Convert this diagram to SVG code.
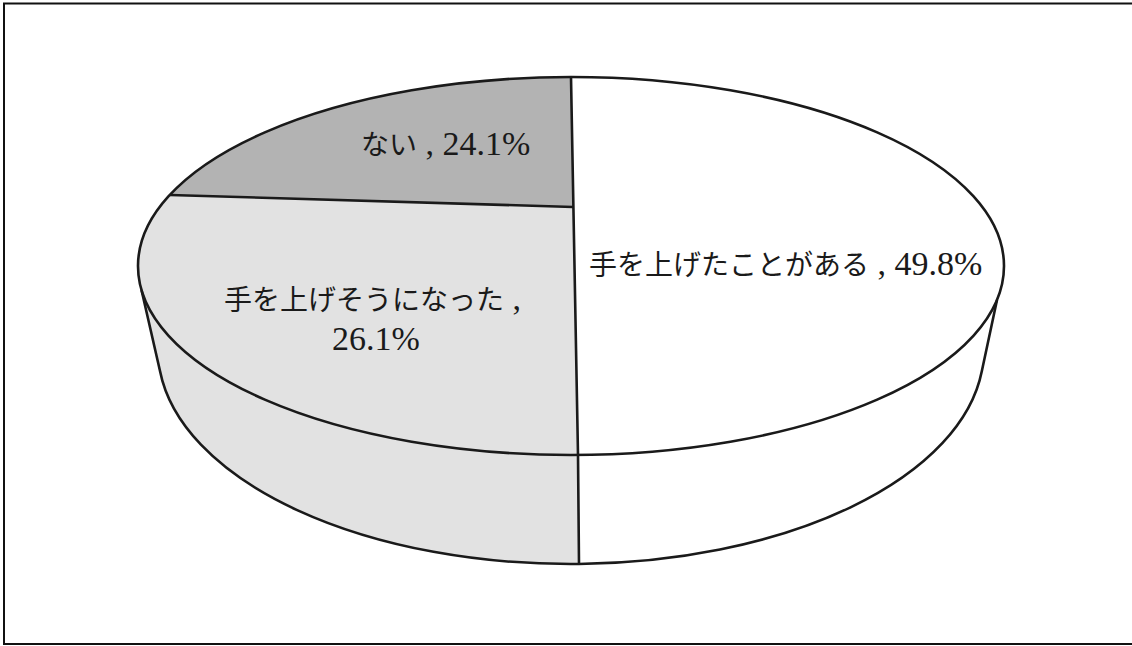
<svg xmlns="http://www.w3.org/2000/svg" width="1132" height="646" viewBox="0 0 1132 646">
  <style>
    .edge { fill: none; stroke: #1a1a1a; stroke-width: 2.6; stroke-linejoin: round; }
    .lbl { font-family: "Liberation Serif", "Noto Sans CJK JP", serif; font-size: 34px; fill: #1a1a1a; }
    .num { font-family: "Liberation Serif", serif; font-size: 34px; }
    .jp { font-family: "Noto Sans CJK JP", "Liberation Serif", sans-serif; font-size: 28px; }
    .mid { fill: #b3b3b3; }
    .light { fill: #e2e2e2; }
    .white { fill: #ffffff; }
  </style>
  <rect x="0" y="0" width="1132" height="646" fill="#ffffff"/>
  <path d="M1140,3.5 H4 V644 H1140" fill="none" stroke="#111" stroke-width="2"/>

  <g id="side-left">
    <path class="light" d="M141.5,290 A433,189 0 0 0 578,455 L579,564 A413,215 0 0 1 160,371 Z"/>
  </g>
  <g id="side-right">
    <path class="white" d="M578,455 A433,189 0 0 0 997,300 L981.8,371.2 A413,215 0 0 1 579,564 Z"/>
  </g>

  <g id="slice-nai">
    <path class="mid" d="M573,207 L170,195 A433,189 0 0 1 571,77 Z"/>
    <text class="lbl" x="361" y="155"><tspan class="jp">ない</tspan><tspan class="num"> , 24.1%</tspan></text>
  </g>
  <g id="slice-ageta">
    <path class="white" d="M573,207 L571,77 A433,189 0 0 1 578,455 Z"/>
    <text class="lbl" x="589" y="275"><tspan class="jp">手を上げたことがある</tspan><tspan class="num"> , 49.8%</tspan></text>
  </g>
  <g id="slice-ageso">
    <path class="light" d="M573,207 L578,455 A433,189 0 0 1 170,195 Z"/>
    <text class="lbl" x="224" y="310"><tspan class="jp">手を上げそうになった</tspan><tspan class="num"> ,</tspan></text>
    <text class="lbl" x="332" y="350"><tspan class="num">26.1%</tspan></text>
  </g>

  <g id="connectors">
    <ellipse class="edge" cx="571" cy="266" rx="433" ry="189"/>
    <path class="edge" d="M170,195 L573,207"/>
    <path class="edge" d="M571,77 L578,455 L579,564"/>
    <path class="edge" d="M141.5,290 L160,371 A413,215 0 0 0 579,564 A413,215 0 0 0 981.8,371.2 L997,300"/>
  </g>
</svg>
